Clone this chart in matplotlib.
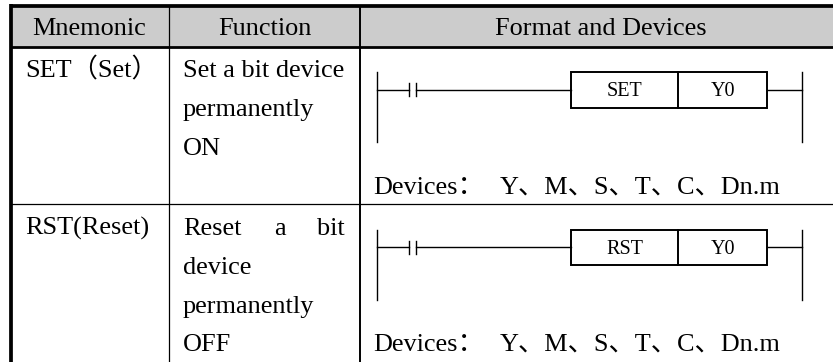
#!/usr/bin/env python
# encoding: utf-8

import matplotlib
matplotlib.use("Agg")
import matplotlib.pyplot as plt
from matplotlib.patches import Rectangle

plt.rcParams['font.family'] = ['Liberation Serif', 'Noto Sans CJK SC', 'DejaVu Sans']

headers = ["Mnemonic", "Function", "Format and Devices"]
mnemonics = ["SET（Set）", "RST(Reset)"]
set_function = ["Set a bit device", "permanently", "ON"]
rst_function = ["device", "permanently", "OFF"]
rst_first_line = ["Reset", "a", "bit"]
instructions = ["SET", "RST"]
targets = ["Y0", "Y0"]
devices_label = "Devices："
devices_list = "Y、M、S、T、C、Dn.m"

W, H = 833, 362
FS = 18.95
BOX_FS = 14.5


def put(ax, x, y, s, size=FS, ha='left'):
    ax.text(x, y, s, fontsize=size, ha=ha, va='baseline', color='k')


def draw_rung(ax, top, name, target):
    # rails, contact, output box; top is the y of the rail start
    wire = top + 17.5
    lw = 1.0
    ax.plot([377, 377], [top, top + 70], color='k', lw=lw)
    ax.plot([802, 802], [top, top + 70], color='k', lw=lw)
    ax.plot([377, 409], [wire, wire], color='k', lw=lw)
    ax.plot([409, 409], [wire - 6.5, wire + 6.5], color='k', lw=lw)
    ax.plot([416.5, 416.5], [wire - 6.5, wire + 6.5], color='k', lw=lw)
    ax.plot([416.5, 571], [wire, wire], color='k', lw=lw)
    ax.plot([768, 802], [wire, wire], color='k', lw=lw)
    ax.add_patch(Rectangle((571.5, top), 196, 35.5, fill=False, ec='k', lw=1.4))
    ax.plot([678, 678], [top, top + 35.5], color='k', lw=1.4)
    put(ax, 625, top + 24, name, size=BOX_FS, ha='center')
    put(ax, 723, top + 24, target, size=BOX_FS, ha='center')


fig = plt.figure(figsize=(W / 100, H / 100), dpi=100)
ax = fig.add_axes([0, 0, 1, 1])
ax.set_xlim(0, W)
ax.set_ylim(H, 0)
ax.axis('off')

# header band and table rules
ax.add_patch(Rectangle((11, 6), W - 11, 41, color='#cccccc', lw=0))
ax.plot([11, W], [6, 6], color='k', lw=2.7, solid_capstyle='butt')
ax.plot([11, W], [47.3, 47.3], color='k', lw=2.0, solid_capstyle='butt')
ax.plot([11, 11], [4, H], color='k', lw=2.7, solid_capstyle='butt')
ax.plot([11, W], [204, 204], color='k', lw=0.9, solid_capstyle='butt')
ax.plot([169, 169], [6, H], color='k', lw=0.9, solid_capstyle='butt')
ax.plot([360.5, 360.5], [6, H], color='k', lw=1.4, solid_capstyle='butt')

for x, s in zip([89, 264.5, 601], headers):
    put(ax, x, 35, s, ha='center')

# first row
put(ax, 25, 77, mnemonics[0])
for y, s in zip([77, 116, 155], set_function):
    put(ax, 183, y, s)
draw_rung(ax, 72, instructions[0], targets[0])
put(ax, 373, 194, devices_label)
put(ax, 500, 194, devices_list)

# second row, first line of the function cell is justified
put(ax, 25, 235, mnemonics[1])
for x, s in zip([183, 274, 317], rst_first_line):
    put(ax, x, 235, s)
for y, s in zip([274, 313, 351], rst_function):
    put(ax, 183, y, s)
draw_rung(ax, 229.5, instructions[1], targets[1])
put(ax, 373, 351, devices_label)
put(ax, 500, 351, devices_list)

fig.savefig("out.png", dpi=100)
